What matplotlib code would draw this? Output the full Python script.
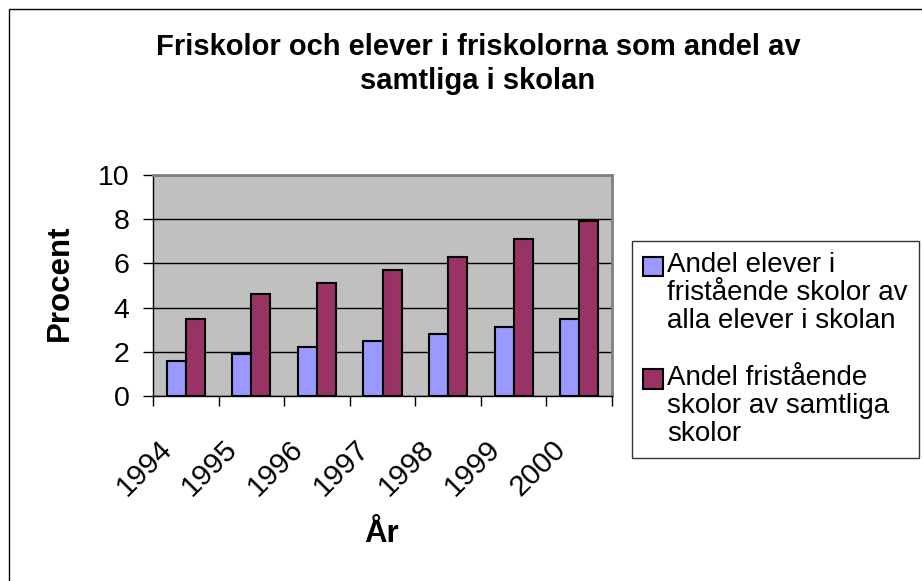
import matplotlib
matplotlib.use("Agg")
import numpy as np
import matplotlib.pyplot as plt
import matplotlib.transforms as mtransforms
from matplotlib.patches import Rectangle
from matplotlib.legend_handler import HandlerPatch

# data
years = ['1994', '1995', '1996', '1997', '1998', '1999', '2000']
andel_elever = [1.6, 1.9, 2.2, 2.5, 2.8, 3.1, 3.5]
andel_skolor = [3.5, 4.6, 5.1, 5.7, 6.3, 7.1, 7.9]
labels = ['Andel elever i\nfristående skolor av\nalla elever i skolan',
          'Andel fristående\nskolor av samtliga\nskolor']
yticks = [0, 2, 4, 6, 8, 10]

plt.rcParams['font.family'] = ['Liberation Sans', 'DejaVu Sans']

W, H = 922, 581
fig = plt.figure(figsize=(W / 100, H / 100), dpi=100)

# outer chart frame (only top/left edge visible in the image)
fig.patches.append(Rectangle((9 / W, -0.1), 1.2, 1.1 - 9 / H,
                             transform=fig.transFigure, fill=False,
                             edgecolor='black', lw=1))

ax = fig.add_axes([153 / W, (H - 396) / H, (612 - 153) / W, (396 - 175) / H])
ax.set_facecolor('#C0C0C0')

x = np.arange(len(years))
w = 0.29
ax.bar(x - w / 2, andel_elever, w, color='#9999FF', edgecolor='black', lw=1.5,
       label=labels[0], zorder=3)
ax.bar(x + w / 2, andel_skolor, w, color='#993366', edgecolor='black', lw=1.5,
       label=labels[1], zorder=3)

ax.set_xlim(-0.5, len(years) - 0.5)
ax.set_ylim(0, 10)
ax.set_yticks(yticks)
ax.tick_params(axis='y', labelsize=20.5, length=7, width=1, direction='out', pad=10)
ax.yaxis.grid(True, color='black', lw=1, zorder=1)

# category boundaries as tick marks, year labels in between
ax.set_xticks(np.arange(len(years) + 1) - 0.5)
ax.set_xticklabels([])
ax.tick_params(axis='x', which='major', length=7, width=1, direction='out')
ax.set_xticks(x, minor=True)
ax.set_xticklabels(years, minor=True, rotation=45, ha='right',
                   rotation_mode='anchor', fontsize=21.3)
ax.tick_params(axis='x', which='minor', length=0, pad=28)
off = mtransforms.ScaledTranslation(-28 / 100, 0, fig.dpi_scale_trans)
for lab in ax.get_xticklabels(minor=True):
    lab.set_transform(lab.get_transform() + off)

for s in ['top', 'right']:
    ax.spines[s].set_color('#808080')
    ax.spines[s].set_linewidth(2)
for s in ['left', 'bottom']:
    ax.spines[s].set_color('black')
    ax.spines[s].set_linewidth(1)

fig.text(478 / W, 1 - 55 / H, 'Friskolor och elever i friskolorna som andel av',
         ha='center', va='baseline', fontsize=21, fontweight='bold')
fig.text(478 / W, 1 - 89 / H, 'samtliga i skolan',
         ha='center', va='baseline', fontsize=21, fontweight='bold')
fig.text(60 / W, 1 - 283 / H, 'Procent', rotation=90, ha='center', va='center',
         fontsize=22.5, fontweight='bold')
fig.text(382 / W, 1 - 534 / H, 'År', ha='center', va='center',
         fontsize=22.5, fontweight='bold')


# legend squares sit on the first line of each label, as in the original
class TopSquare(HandlerPatch):
    def create_artists(self, legend, orig_handle, xdescent, ydescent,
                       width, height, fontsize, trans):
        shift = fontsize * 0.97
        p = Rectangle((-xdescent, -ydescent + shift), width, height,
                      facecolor=orig_handle.patches[0].get_facecolor(),
                      edgecolor='black', lw=1.5, transform=trans)
        return [p]


handles, labs = ax.get_legend_handles_labels()
leg = fig.legend(handles, labs, loc='upper left',
                 bbox_to_anchor=(632 / W, 1 - 241 / H),
                 fontsize=20, frameon=True, fancybox=False, edgecolor='black',
                 handlelength=0.72, handleheight=0.72, handletextpad=0.15,
                 borderpad=0.4, labelspacing=1.1, borderaxespad=0,
                 handler_map={h: TopSquare() for h in handles})
leg.get_frame().set_linewidth(1)
for t in leg.get_texts():
    t.set_linespacing(1.1)

fig.savefig('out.png', dpi=100, facecolor='white')
